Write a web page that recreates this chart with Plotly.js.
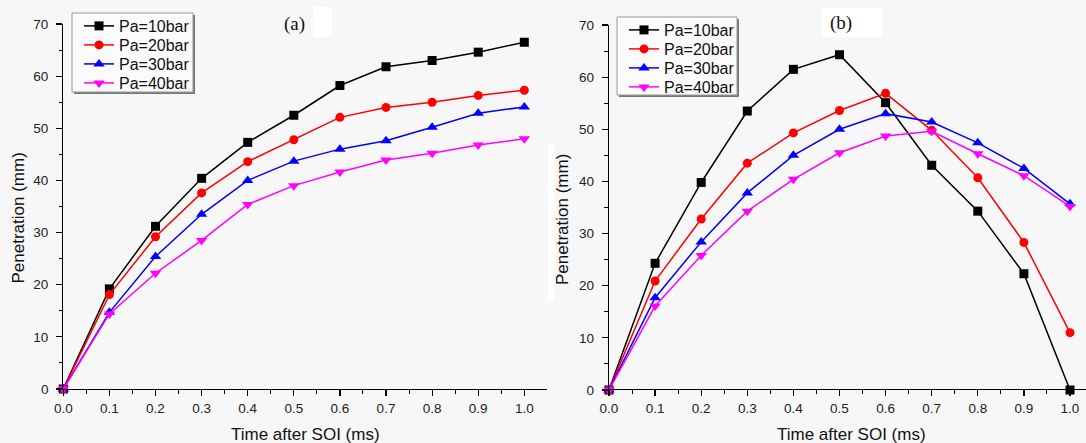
<!DOCTYPE html>
<html>
<head>
<meta charset="utf-8">
<script src="https://cdn.plot.ly/plotly-3.0.1.min.js"></script>
<style>html,body{margin:0;padding:0;background:#f7f7f7;}#chart{width:1086px;height:443px;}</style>
</head>
<body>
<div id="chart"></div>
<script>
// ---- data ----
const time = [0.0, 0.1, 0.2, 0.3, 0.4, 0.5, 0.6, 0.7, 0.8, 0.9, 1.0];
const seriesNames = ["Pa=10bar", "Pa=20bar", "Pa=30bar", "Pa=40bar"];
// panel (a)
const a_10bar = [0, 19.2, 31.2, 40.4, 47.3, 52.5, 58.2, 61.8, 63.0, 64.6, 66.5];
const a_20bar = [0, 18.1, 29.2, 37.6, 43.6, 47.8, 52.1, 54.0, 55.0, 56.3, 57.3];
const a_30bar = [0, 14.7, 25.4, 33.5, 40.0, 43.7, 46.0, 47.6, 50.2, 52.9, 54.1];
const a_40bar = [0, 14.4, 22.2, 28.5, 35.4, 39.0, 41.6, 43.9, 45.2, 46.8, 48.0];
// panel (b)
const b_10bar = [0, 24.3, 39.8, 53.5, 61.5, 64.3, 55.1, 43.1, 34.3, 22.3, 0];
const b_20bar = [0, 20.9, 32.8, 43.5, 49.3, 53.6, 56.9, 49.8, 40.7, 28.3, 11.0];
const b_30bar = [0, 17.7, 28.4, 37.8, 45.0, 50.0, 53.0, 51.4, 47.4, 42.5, 35.7];
const b_40bar = [0, 16.1, 25.8, 34.3, 40.4, 45.5, 48.7, 49.6, 45.3, 41.1, 35.2];
const panelLabels = ["(a)", "(b)"];
const xTitle = "Time after SOI (ms)";
const yTitle = "Penetration (mm)";

// ---- styles ----
const colors = ["#000000", "#ff0000", "#0000ff", "#ff00ff"];
const symbols = ["square", "circle", "triangle-up", "triangle-down"];
const msizes = [9, 9, 10, 10];
const W = 1086, H = 443;
const px = v => v / W;
const py = v => 1 - v / H;
const BG = "#f7f7f7";
const SANS = "Liberation Sans, Arial, sans-serif";

const legFont = {family: SANS, size: 16, color: "#111"};
// legend row centres (pixels) for each panel
const legRowsA = [26, 45, 64, 83];
const legRowsB = [30, 49, 68, 87];
const legXA = 79, legXB = 624;

const traces = [];
const layoutLegends = {};
function addPanel(dataList, xa, ya, legOffset, legX, rows) {
  dataList.forEach((ys, i) => {
    const n = legOffset + i;
    const lname = "legend" + (n === 1 ? "" : n);
    traces.push({
      x: time, y: ys, type: "scatter", mode: "lines+markers", name: seriesNames[i],
      xaxis: xa, yaxis: ya, legend: lname, cliponaxis: false,
      line: {color: colors[i], width: 1.5},
      marker: {symbol: symbols[i], size: msizes[i], color: colors[i]}
    });
    layoutLegends[lname] = {
      x: px(legX), y: py(rows[i]), xanchor: "left", yanchor: "middle",
      bgcolor: "rgba(0,0,0,0)", borderwidth: 0, font: legFont, itemclick: false
    };
  });
}
addPanel([a_10bar, a_20bar, a_30bar, a_40bar], "x", "y", 1, legXA, legRowsA);
addPanel([b_10bar, b_20bar, b_30bar, b_40bar], "x2", "y2", 5, legXB, legRowsB);

const tickFont = {family: SANS, size: 13.5, color: "#222"};
function xax(domain, range) {
  return {
    domain: domain, range: range, showgrid: false, zeroline: false,
    showline: true, linecolor: "#000", linewidth: 1.2,
    ticks: "outside", ticklen: 6, tickwidth: 1.2, tickcolor: "#000",
    tick0: 0, dtick: 0.1, tickformat: ".1f", tickfont: tickFont, ticklabelstandoff: 1,
    minor: {ticks: "outside", ticklen: 3.5, tickwidth: 1, tickcolor: "#000", dtick: 0.05, tick0: 0, showgrid: false},
    fixedrange: true
  };
}
function yax(domain, anchor) {
  return {
    domain: domain, range: [0, 70], anchor: anchor, showgrid: false, zeroline: false,
    showline: true, linecolor: "#000", linewidth: 1.2,
    ticks: "outside", ticklen: 6, tickwidth: 1.2, tickcolor: "#000",
    tick0: 0, dtick: 10, tickfont: tickFont, ticklabelstandoff: 5,
    minor: {ticks: "outside", ticklen: 3.5, tickwidth: 1, tickcolor: "#000", dtick: 5, tick0: 0, showgrid: false},
    fixedrange: true
  };
}

const titleFont = {family: SANS, size: 17, color: "#111"};
const serif = {family: "Liberation Serif, Times New Roman, serif", size: 19, color: "#111"};

function legendBox(x0, y0, x1, y1) {
  return [
    {type: "rect", xref: "paper", yref: "paper", x0: px(x0 + 2), x1: px(x1 + 2), y0: py(y1 + 2), y1: py(y0 + 2),
     fillcolor: "#777", line: {width: 0}, layer: "above"},
    {type: "rect", xref: "paper", yref: "paper", x0: px(x0), x1: px(x1), y0: py(y1), y1: py(y0),
     fillcolor: "#fbfbfb", line: {color: "#999", width: 1}, layer: "above"}
  ];
}
function whiteRect(x0, y0, x1, y1) {
  return {type: "rect", xref: "paper", yref: "paper", x0: px(x0), x1: px(x1), y0: py(y1), y1: py(y0),
    fillcolor: "#ffffff", line: {width: 0}, layer: "below"};
}
function ann(text, x, y, font, angle) {
  return {text: text, xref: "paper", yref: "paper", x: px(x), y: py(y), xanchor: "center", yanchor: "middle",
    showarrow: false, font: font, textangle: angle || 0};
}

const layout = Object.assign({
  width: W, height: H, margin: {l: 0, r: 0, t: 0, b: 0},
  paper_bgcolor: BG, plot_bgcolor: "rgba(0,0,0,0)",
  showlegend: true,
  xaxis: xax([px(63.3), px(547)], [0, 1.0492]),
  yaxis: yax([1 - 389 / H, 1 - 24 / H], "x"),
  xaxis2: xax([px(609), 1], [0, 1.0347]),
  yaxis2: yax([1 - 390 / H, 1 - 25 / H], "x2"),
  shapes: [
    whiteRect(313, 7, 332, 37),
    whiteRect(821, 8, 883, 37),
    whiteRect(548, 143, 555, 302),
    ...legendBox(72, 13, 193, 92),
    ...legendBox(617, 17, 737, 95)
  ],
  annotations: [
    ann(panelLabels[0], 294, 24, serif),
    ann(panelLabels[1], 841, 23, serif),
    ann(xTitle, 305, 434, titleFont),
    ann(xTitle, 851, 434, titleFont),
    ann(yTitle, 17.5, 218, titleFont, -90),
    ann(yTitle, 563, 220, titleFont, -90)
  ]
}, layoutLegends);

Plotly.newPlot("chart", traces, layout, {displayModeBar: false, staticPlot: true});
</script>
</body>
</html>
